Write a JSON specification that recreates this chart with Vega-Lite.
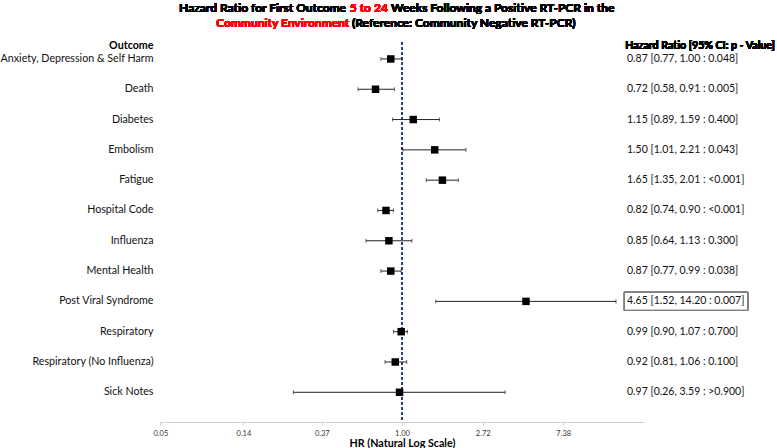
{
  "$schema": "https://vega.github.io/schema/vega-lite/v6.json",
  "autosize": "none",
  "width": 484,
  "height": 380,
  "padding": {"left": 160, "top": 42, "right": 133, "bottom": 26},
  "background": "white",
  "config": {"view": {"stroke": null}, "font": "Lato"},
  "data": {"values": [
    {"outcome": "Anxiety, Depression & Self Harm", "hr": 0.87, "lo": 0.77, "hi": 1.00, "label": "0.87 [0.77, 1.00 : 0.048]"},
    {"outcome": "Death", "hr": 0.72, "lo": 0.58, "hi": 0.91, "label": "0.72 [0.58, 0.91 : 0.005]"},
    {"outcome": "Diabetes", "hr": 1.15, "lo": 0.89, "hi": 1.59, "label": "1.15 [0.89, 1.59 : 0.400]"},
    {"outcome": "Embolism", "hr": 1.50, "lo": 1.01, "hi": 2.21, "label": "1.50 [1.01, 2.21 : 0.043]"},
    {"outcome": "Fatigue", "hr": 1.65, "lo": 1.35, "hi": 2.01, "label": "1.65 [1.35, 2.01 : <0.001]"},
    {"outcome": "Hospital Code", "hr": 0.82, "lo": 0.74, "hi": 0.90, "label": "0.82 [0.74, 0.90 : <0.001]"},
    {"outcome": "Influenza", "hr": 0.85, "lo": 0.64, "hi": 1.13, "label": "0.85 [0.64, 1.13 : 0.300]"},
    {"outcome": "Mental Health", "hr": 0.87, "lo": 0.77, "hi": 0.99, "label": "0.87 [0.77, 0.99 : 0.038]"},
    {"outcome": "Post Viral Syndrome", "hr": 4.65, "lo": 1.52, "hi": 14.20, "label": "4.65 [1.52, 14.20 : 0.007]"},
    {"outcome": "Respiratory", "hr": 0.99, "lo": 0.90, "hi": 1.07, "label": "0.99 [0.90, 1.07 : 0.700]"},
    {"outcome": "Respiratory (No Influenza)", "hr": 0.92, "lo": 0.81, "hi": 1.06, "label": "0.92 [0.81, 1.06 : 0.100]"},
    {"outcome": "Sick Notes", "hr": 0.97, "lo": 0.26, "hi": 3.59, "label": "0.97 [0.26, 3.59 : >0.900]"}
  ]},
  "encoding": {
    "y": {
      "field": "outcome", "type": "nominal", "sort": null,
      "scale": {"paddingInner": 0, "paddingOuter": 0.27, "align": 0.11},
      "axis": {
        "title": "Outcome", "titleAngle": 0, "titleAlign": "right", "titleBaseline": "middle",
        "titleX": -7, "titleY": 3, "titleFontSize": 10.7, "titleFontWeight": "bold", "titleColor": "#000",
        "labelFontSize": 10.7, "labelColor": "#111", "labelPadding": 7, "labelLimit": 300,
        "domain": false, "ticks": false, "grid": false
      }
    }
  },
  "layer": [
    {
      "mark": {"type": "rule", "color": "#2b3f88", "strokeDash": [3, 2], "strokeWidth": 1.2},
      "encoding": {
        "x": {"datum": 1, "type": "quantitative", "scale": {"type": "log", "domain": [0.049787, 20.0855], "nice": false},
          "axis": {"values": [0.05, 0.14, 0.37, 1, 2.72, 7.38], "format": ".2f", "title": "HR (Natural Log Scale)",
            "titleFontSize": 10.7, "titleFontWeight": "bold", "titleColor": "#000", "titlePadding": 2,
            "labelFontSize": 7.5, "labelColor": "#333", "labelPadding": 4, "labelFlush": false,
            "domainColor": "#d0d0d0", "tickColor": "#d0d0d0", "tickSize": 3, "grid": false}},
        "y": null
      }
    },
    {
      "mark": {"type": "rule", "color": "#222", "strokeWidth": 1},
      "encoding": {"x": {"field": "lo", "type": "quantitative"}, "x2": {"field": "hi"}}
    },
    {
      "mark": {"type": "tick", "color": "#222", "size": 4, "thickness": 1},
      "encoding": {"x": {"field": "lo", "type": "quantitative"}}
    },
    {
      "mark": {"type": "tick", "color": "#222", "size": 4, "thickness": 1},
      "encoding": {"x": {"field": "hi", "type": "quantitative"}}
    },
    {
      "mark": {"type": "point", "shape": "square", "filled": true, "color": "#000", "size": 56, "opacity": 1},
      "encoding": {"x": {"field": "hr", "type": "quantitative"}}
    },
    {
      "mark": {"type": "text", "align": "left", "baseline": "middle", "fontSize": 10.5, "color": "#111"},
      "encoding": {"x": {"datum": 16.27, "type": "quantitative"}, "text": {"field": "label"}}
    },
    {
      "mark": {"type": "bar", "fill": null, "filled": false, "stroke": "#808080", "strokeWidth": 1, "height": {"band": 0.6}},
      "encoding": {"x": {"datum": 15.74, "type": "quantitative"}, "x2": {"datum": 72.7}, "y": {"datum": "Post Viral Syndrome"}}
    },
    {
      "mark": {"type": "text", "align": "left", "baseline": "middle", "fontSize": 10.6, "fontWeight": "bold", "color": "#000", "dy": -13},
      "encoding": {"x": {"datum": 15.9, "type": "quantitative"}, "y": {"datum": "Anxiety, Depression & Self Harm"}, "text": {"value": "Hazard Ratio [95% CI: p - Value]"}}
    },
    {
      "mark": {"type": "text", "align": "right", "baseline": "middle", "fontSize": 12, "fontWeight": "bold", "color": "#000", "dy": -51},
      "encoding": {"x": {"datum": 0.4995, "type": "quantitative"}, "y": {"datum": "Anxiety, Depression & Self Harm"}, "text": {"value": "Hazard Ratio for First Outcome"}}
    },
    {
      "mark": {"type": "text", "align": "center", "baseline": "middle", "fontSize": 12, "fontWeight": "bold", "color": "#ff0000", "dy": -51},
      "encoding": {"x": {"datum": 0.663, "type": "quantitative"}, "y": {"datum": "Anxiety, Depression & Self Harm"}, "text": {"value": "5 to 24"}}
    },
    {
      "mark": {"type": "text", "align": "left", "baseline": "middle", "fontSize": 12, "fontWeight": "bold", "color": "#000", "dy": -51},
      "encoding": {"x": {"datum": 0.873, "type": "quantitative"}, "y": {"datum": "Anxiety, Depression & Self Harm"}, "text": {"value": "Weeks Following a Positive RT-PCR in the"}}
    },
    {
      "mark": {"type": "text", "align": "right", "baseline": "middle", "fontSize": 12, "fontWeight": "bold", "color": "#ff0000", "dy": -36},
      "encoding": {"x": {"datum": 0.52, "type": "quantitative"}, "y": {"datum": "Anxiety, Depression & Self Harm"}, "text": {"value": "Community Environment"}}
    },
    {
      "mark": {"type": "text", "align": "left", "baseline": "middle", "fontSize": 12, "fontWeight": "bold", "color": "#000", "dy": -36},
      "encoding": {"x": {"datum": 0.538, "type": "quantitative"}, "y": {"datum": "Anxiety, Depression & Self Harm"}, "text": {"value": "(Reference: Community Negative RT-PCR)"}}
    }
  ]
}
